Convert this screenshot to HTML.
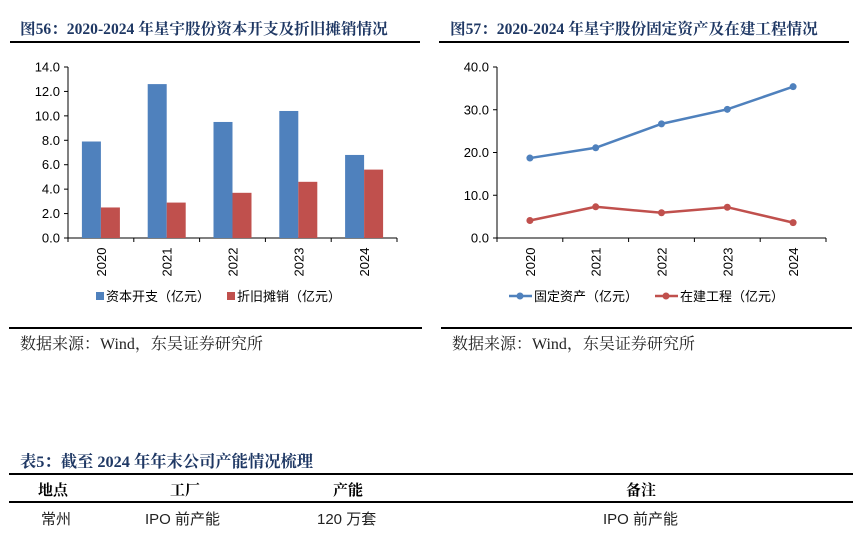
<!DOCTYPE html>
<html><head><meta charset="utf-8"><style>
body{margin:0;width:861px;height:547px;background:#fff;overflow:hidden;font-family:"Liberation Sans","Noto Sans CJK SC",sans-serif;position:relative}
.t{position:absolute;white-space:nowrap}
.ttl{font-family:"Liberation Serif","Noto Serif CJK SC",serif;font-weight:bold;color:#1f3864;font-size:15.6px}
.src{font-family:"Liberation Serif","Noto Serif CJK SC",serif;font-size:16px;color:#222}
.rule{position:absolute;background:#000}
</style></head><body>
<div class="t ttl" style="left:20px;top:17px">图56：2020-2024 年星宇股份资本开支及折旧摊销情况</div>
<div class="rule" style="left:10px;top:41px;width:410px;height:2px"></div>
<div class="t ttl" style="left:450px;top:17px">图57：2020-2024 年星宇股份固定资产及在建工程情况</div>
<div class="rule" style="left:439px;top:41px;width:410px;height:2px"></div>
<svg id="c" width="861" height="320" style="position:absolute;left:0;top:0"></svg>
<div class="rule" style="left:9px;top:327px;width:413px;height:2px"></div>
<div class="rule" style="left:441px;top:327px;width:411px;height:2px"></div>
<div class="t src" style="left:20px;top:331px">数据来源：Wind，东吴证券研究所</div>
<div class="t src" style="left:452px;top:331px">数据来源：Wind，东吴证券研究所</div>
<div class="t ttl" style="left:20px;top:448px;font-size:16.3px">表5：截至 2024 年年末公司产能情况梳理</div>
<div class="rule" style="left:9px;top:473px;width:844px;height:2px"></div>
<div class="rule" style="left:9px;top:501px;width:844px;height:2px"></div>
<div style="font-family:'Liberation Serif','Noto Serif CJK SC',serif;font-weight:bold;font-size:15px">
<div class="t" style="left:38px;top:479px">地点</div>
<div class="t" style="left:170px;top:479px">工厂</div>
<div class="t" style="left:333px;top:479px">产能</div>
<div class="t" style="left:626px;top:479px">备注</div>
</div>
<div style="font-size:15px;color:#222">
<div class="t" style="left:41px;top:508px">常州</div>
<div class="t" style="left:145px;top:508px">IPO 前产能</div>
<div class="t" style="left:317px;top:508px">120 万套</div>
<div class="t" style="left:603px;top:508px">IPO 前产能</div>
</div>
<script>
const years=['2020','2021','2022','2023','2024'];
const capex=[7.9,12.6,9.5,10.4,6.8];
const depr=[2.5,2.9,3.7,4.6,5.6];
const leftTicks=[0,2,4,6,8,10,12,14];
const fixedAssets=[18.7,21.1,26.7,30.1,35.4];
const construction=[4.1,7.3,5.9,7.2,3.6];
const rightTicks=[0,10,20,30,40];
const NS='http://www.w3.org/2000/svg';
const svg=document.getElementById('c');
function mk(tag,attrs,parent){const e=document.createElementNS(NS,tag);for(const k in attrs)e.setAttribute(k,attrs[k]);(parent||svg).appendChild(e);return e;}
function txt(x,y,s,attrs){const e=mk('text',Object.assign({x:x,y:y,'font-size':13,fill:'#000','font-family':'"Liberation Sans","Noto Sans CJK SC",sans-serif'},attrs||{}));e.textContent=s;return e;}
function axes(x0,x1,y0,y1,max,ticks,fmt,pre){
  const ys=v=>y0-(v/max)*(y0-y1);
  const step=(x1-x0)/years.length;
  const ax=mk('line',{x1:x0,y1:y1,x2:x0,y2:y0,stroke:'#000','stroke-width':1});
  
  const bx=mk('line',{x1:x0,y1:y0,x2:x1,y2:y0,stroke:'#000','stroke-width':1});
  
  ticks.forEach(v=>{const y=ys(v);mk('line',{x1:x0-4,y1:y,x2:x0,y2:y,stroke:'#000'});
    const t=txt(x0-8,y+4.5,v.toFixed(1),{'text-anchor':'end'});
    });
  for(let i=0;i<=years.length;i++){const x=x0+i*step;mk('line',{x1:x,y1:y0,x2:x,y2:y0+4,stroke:'#000'});}
  years.forEach((yr,i)=>{const cx=x0+(i+0.5)*step;const t=txt(0,0,yr,{'text-anchor':'middle',transform:`translate(${cx+5},262) rotate(-90)`});
    });
  return {ys:ys,step:step};
}
{const x0=68,x1=397,y0=238,y1=67;const a=axes(x0,x1,y0,y1,14,leftTicks,null,'left');
 const bw=19;
 years.forEach((yr,i)=>{const cx=x0+(i+0.5)*a.step;
  const b=mk('rect',{x:cx-bw,y:a.ys(capex[i]),width:bw,height:y0-a.ys(capex[i]),fill:'#4f81bd'});
  
  const r=mk('rect',{x:cx,y:a.ys(depr[i]),width:bw,height:y0-a.ys(depr[i]),fill:'#c0504d'});
  });
 const l1=mk('rect',{x:96,y:292,width:8,height:8,fill:'#4f81bd'});
 const t1=txt(106,301,'资本开支（亿元）');
 const l2=mk('rect',{x:227,y:292,width:8,height:8,fill:'#c0504d'});
 const t2=txt(237,301,'折旧摊销（亿元）');
}
{const x0=497,x1=826,y0=238,y1=67;const a=axes(x0,x1,y0,y1,40,rightTicks,null,'right');
 function series(vals,color,name){
  const pts=vals.map((v,i)=>[x0+(i+0.5)*a.step,a.ys(v)]);
  const p=mk('polyline',{points:pts.map(p=>p.join(',')).join(' '),fill:'none',stroke:color,'stroke-width':2.5});
  
  pts.forEach((pt,i)=>{const c=mk('circle',{cx:pt[0],cy:pt[1],r:3.5,fill:color});
   });
 }
 series(fixedAssets,'#4f81bd','fixed-assets');
 series(construction,'#c0504d','construction');
 mk('line',{x1:509,y1:296,x2:532,y2:296,stroke:'#4f81bd','stroke-width':2.5});mk('circle',{cx:520,cy:296,r:3.5,fill:'#4f81bd'});
 const t1=txt(534,301,'固定资产（亿元）');
 mk('line',{x1:655,y1:296,x2:678,y2:296,stroke:'#c0504d','stroke-width':2.5});mk('circle',{cx:666,cy:296,r:3.5,fill:'#c0504d'});
 const t2=txt(680,301,'在建工程（亿元）');
}
</script>
</body></html>
